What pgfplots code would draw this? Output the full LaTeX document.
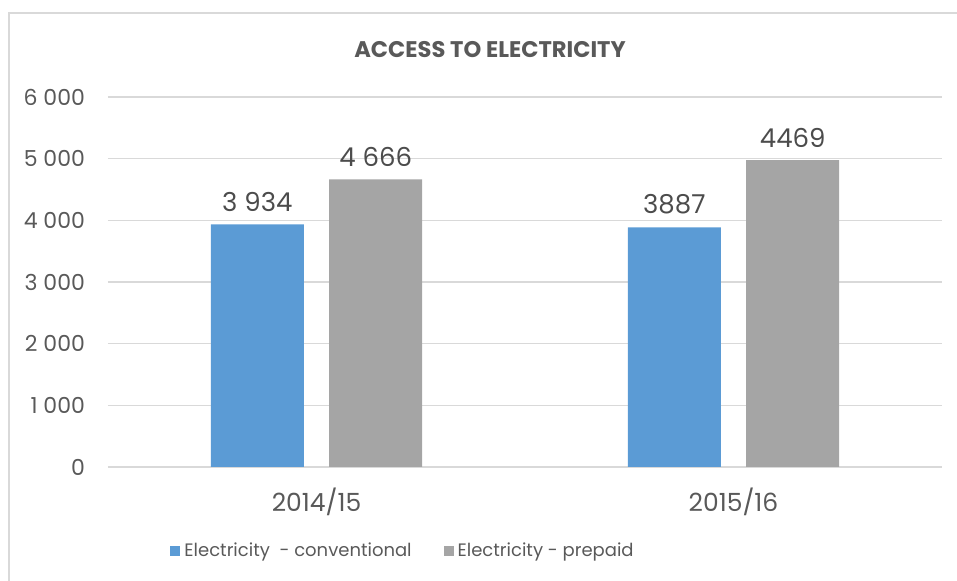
\documentclass[border=0pt]{standalone}
\usepackage{fontspec}
\setmainfont{Poppins}
\usepackage{pgfplots}
\pgfplotsset{compat=1.18}
\definecolor{conv}{HTML}{5B9BD5}
\definecolor{prep}{HTML}{A5A5A5}
\definecolor{txt}{HTML}{595959}
\definecolor{grd}{HTML}{D9D9D9}
\begin{document}
\begin{tikzpicture}
% 1px = 0.5pt, origin at the lower left of the plot area
\useasboundingbox (-54pt,-57pt) rectangle (424.5pt,233.5pt);
\draw[grd, line width=0.8pt] (-49.5pt,-80pt) -- (-49.5pt,227pt) -- (450pt,227pt);
\node[font=\bfseries\fontsize{11.3}{13}\selectfont, text=txt] at (191pt,208.5pt) {ACCESS TO ELECTRICITY};
\begin{axis}[
  at={(0,0)}, anchor=south west,
  scale only axis, width=417pt, height=185pt,
  ybar,
  xmin=-0.5, xmax=1.5, ymin=0, ymax=6000,
  xtick={0,1}, xticklabels={2014/15,2015/16},
  ytick={0,1000,...,6000},
  major tick length=0pt,
  axis x line*=bottom, axis y line*=left,
  y axis line style={draw=none},
  x axis line style={grd, line width=0.8pt, -},
  ymajorgrids, grid style={grd, line width=0.8pt},
  tick label style={text=txt},
  yticklabel style={font=\fontsize{11}{13}\selectfont, xshift=-8pt},
  xticklabel style={font=\fontsize{12.5}{14}\selectfont, yshift=-7pt},
  /pgf/number format/assume math mode=true,
  /pgf/number format/1000 sep={\ },
  bar width=46.5pt,
  point meta=explicit symbolic,
  nodes near coords,
  nodes near coords style={font=\fontsize{13}{15}\selectfont, text=txt!85!black, yshift=3pt},
  legend columns=2,
  legend style={at={(0.355,-0.227)}, anchor=center, draw=none, fill=none,
    font=\fontsize{9}{11}\selectfont, text=txt,
    /tikz/every even column/.append style={column sep=14pt}},
  legend image code/.code={\fill[#1] (0pt,-2.5pt) rectangle (5pt,2.5pt);},
]
\addplot[fill=conv, draw=none, bar shift=-29.6pt] table[meta=lab] {
x y lab
0 3934 {3\ 934}
1 3887 3887
};
\addplot[fill=prep, draw=none, bar shift=29.6pt] table[meta=lab] {
x y lab
0 4666 {4\ 666}
1 4975 4469
};
\legend{Electricity\ \ - conventional, Electricity - prepaid}
\end{axis}
\end{tikzpicture}
\end{document}
